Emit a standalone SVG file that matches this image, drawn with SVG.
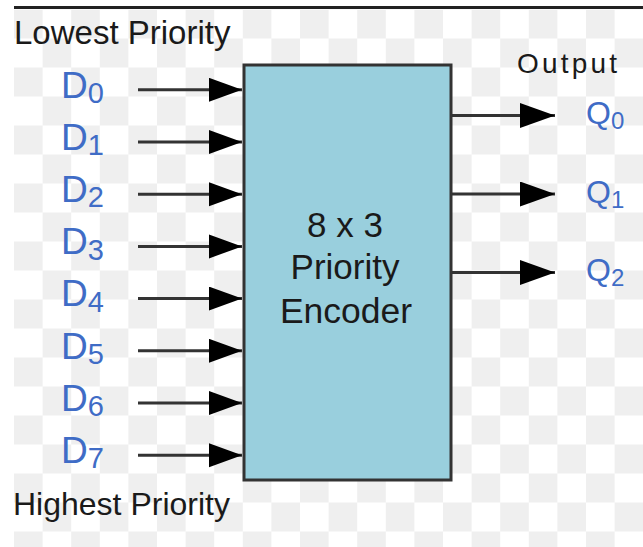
<svg xmlns="http://www.w3.org/2000/svg" width="643" height="547" viewBox="0 0 643 547">
<style>
  .lbl { font-family: "Liberation Sans", Arial, sans-serif; fill: #1a1a1a; }
  .sig { font-family: "Liberation Sans", Arial, sans-serif; fill: #3f6cc6; }
  .wire { stroke: #333; stroke-width: 3; fill: none; }
</style>
<defs>
  <pattern id="chk" x="14" y="9.5" width="57.2" height="58" patternUnits="userSpaceOnUse">
    <rect x="0" y="0" width="28.6" height="29" fill="#efefef"/>
    <rect x="28.6" y="29" width="28.6" height="29" fill="#efefef"/>
  </pattern>
  <marker id="ahIn" markerUnits="userSpaceOnUse" markerWidth="34" markerHeight="26" refX="33" refY="12" orient="auto">
    <polygon points="0,0 33,12 0,24" fill="#000"/>
  </marker>
  <marker id="ahOut" markerUnits="userSpaceOnUse" markerWidth="36" markerHeight="27" refX="35" refY="12.5" orient="auto">
    <polygon points="0,0 35,12.5 0,25" fill="#000"/>
  </marker>
</defs>
<rect x="0" y="0" width="643" height="547" fill="#fff"/>
<rect x="14" y="9.5" width="629" height="537.5" fill="url(#chk)"/>
<line x1="14" y1="7.5" x2="643" y2="7.5" stroke="#222" stroke-width="3"/>

<g id="connectors">
  <line class="wire" x1="138" y1="89.8" x2="242" y2="89.8" marker-end="url(#ahIn)"/>
  <line class="wire" x1="138" y1="142" x2="242" y2="142" marker-end="url(#ahIn)"/>
  <line class="wire" x1="138" y1="194.2" x2="242" y2="194.2" marker-end="url(#ahIn)"/>
  <line class="wire" x1="138" y1="246.4" x2="242" y2="246.4" marker-end="url(#ahIn)"/>
  <line class="wire" x1="138" y1="298.6" x2="242" y2="298.6" marker-end="url(#ahIn)"/>
  <line class="wire" x1="138" y1="350.8" x2="242" y2="350.8" marker-end="url(#ahIn)"/>
  <line class="wire" x1="138" y1="403" x2="242" y2="403" marker-end="url(#ahIn)"/>
  <line class="wire" x1="138" y1="455.2" x2="242" y2="455.2" marker-end="url(#ahIn)"/>
  <line class="wire" x1="452" y1="115.5" x2="555" y2="115.5" marker-end="url(#ahOut)"/>
  <line class="wire" x1="452" y1="194" x2="555" y2="194" marker-end="url(#ahOut)"/>
  <line class="wire" x1="452" y1="272.5" x2="555" y2="272.5" marker-end="url(#ahOut)"/>
</g>

<g id="encoder">
  <rect x="244" y="65" width="207" height="415" fill="#99cfdd" stroke="#333" stroke-width="3"/>
  <text class="lbl" x="345" y="236.7" font-size="35" text-anchor="middle">8 x 3</text>
  <text class="lbl" x="345" y="279" font-size="35" text-anchor="middle">Priority</text>
  <text class="lbl" x="346" y="323.3" font-size="35.5" text-anchor="middle">Encoder</text>
</g>

<g id="captions">
  <text class="lbl" x="14" y="44.3" font-size="33">Lowest Priority</text>
  <text class="lbl" x="13" y="515" font-size="32">Highest Priority</text>
  <text class="lbl" x="517" y="73.3" font-size="28" textLength="100" lengthAdjust="spacing">Output</text>
</g>

<g id="inputs">
  <text class="sig" x="61" y="97.5" font-size="37">D<tspan font-size="29" dy="5.5">0</tspan></text>
  <text class="sig" x="61" y="149.7" font-size="37">D<tspan font-size="29" dy="5.5">1</tspan></text>
  <text class="sig" x="61" y="201.9" font-size="37">D<tspan font-size="29" dy="5.5">2</tspan></text>
  <text class="sig" x="61" y="254.1" font-size="37">D<tspan font-size="29" dy="5.5">3</tspan></text>
  <text class="sig" x="61" y="306.3" font-size="37">D<tspan font-size="29" dy="5.5">4</tspan></text>
  <text class="sig" x="61" y="358.5" font-size="37">D<tspan font-size="29" dy="5.5">5</tspan></text>
  <text class="sig" x="61" y="410.7" font-size="37">D<tspan font-size="29" dy="5.5">6</tspan></text>
  <text class="sig" x="61" y="462.9" font-size="37">D<tspan font-size="29" dy="5.5">7</tspan></text>
</g>

<g id="outputs">
  <text class="sig" x="586" y="124" font-size="32">Q<tspan font-size="24" dy="5">0</tspan></text>
  <text class="sig" x="586" y="202.5" font-size="32">Q<tspan font-size="24" dy="5">1</tspan></text>
  <text class="sig" x="586" y="281" font-size="32">Q<tspan font-size="24" dy="5">2</tspan></text>
</g>
</svg>
